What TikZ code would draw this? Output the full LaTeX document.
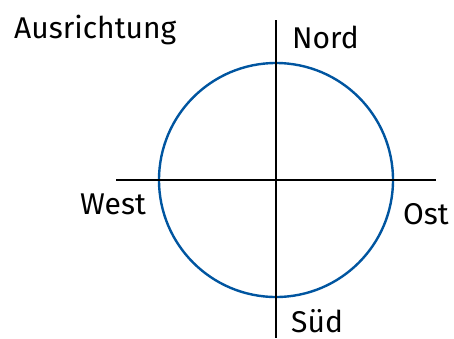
\documentclass[tikz,border=0pt]{standalone}
\usepackage{fontspec}
\setmainfont{Fira Sans}
\usepackage{tikz}
\usetikzlibrary{positioning}
\definecolor{circleblue}{RGB}{0,85,160}

\begin{document}
\begin{tikzpicture}[
  x=1pt, y=-1pt,
  axis/.style={line width=2.4pt, black},
  ring/.style={draw=circleblue, line width=2.4pt, circle, minimum size=234pt, inner sep=0pt},
  label/.style={font=\fontsize{30}{33}\selectfont, inner sep=0pt, anchor=base west}
]
\useasboundingbox (0,0) rectangle (454,338);

% centre and circle
\coordinate (c) at (276,180);
\node[ring] (ring) at (c) {};

% axis ends
\coordinate (top) at (276,20);
\coordinate (bottom) at (276,338);
\coordinate (left) at (116,180);
\coordinate (right) at (436,180);

% axes
\draw[axis] (top) -- (bottom);
\draw[axis] (left) -- (right);

% labels
\node[label] (title) at (14,38) {Ausrichtung};
\node[label] (nord) at (292,48) {Nord};
\node[label] (west) at (80,214) {West};
\node[label] (ost) at (403,224) {Ost};
\node[label] (sued) at (291,332) {Süd};

\end{tikzpicture}
\end{document}
